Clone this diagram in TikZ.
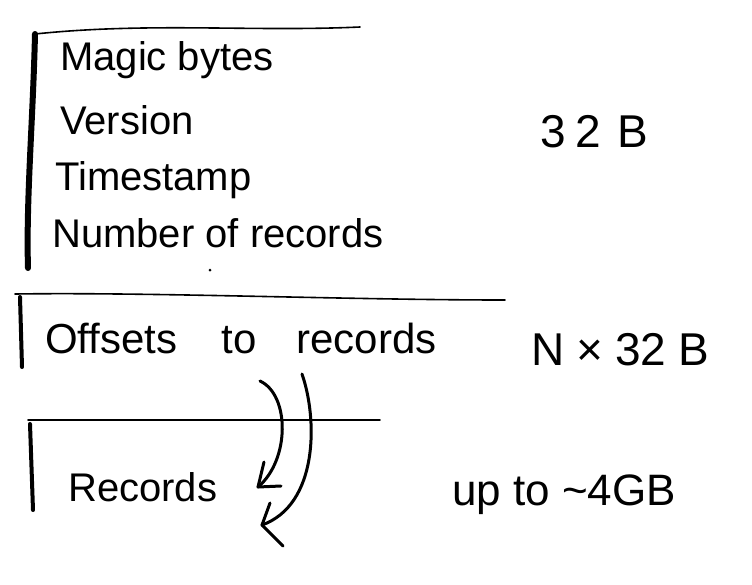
\documentclass[tikz,border=0pt]{standalone}
\usepackage{fontspec}
\setmainfont{Liberation Sans}
\begin{document}
\begin{tikzpicture}[x=1pt,y=-1pt,
  rule/.style={line width=1.6pt, line cap=round},
  bar/.style={line width=4pt, line cap=round},
  hand/.style={anchor=west, inner sep=0pt, font=\fontsize{40}{46}\selectfont},
  size/.style={anchor=center, inner sep=0pt, font=\fontsize{46}{52}\selectfont},
  pen/.style={line width=3pt, line cap=round, line join=round}]
\useasboundingbox[fill=white] (0,0) rectangle (752,584);
% header block
\coordinate (h1) at (35,34);
\coordinate (h2) at (360,27);
\coordinate (hb) at (28,268);
\draw[rule] (h1) .. controls (150,22) and (250,32) .. (h2);
\draw[line width=6pt, line cap=round] (h1) .. controls (33,120) and (26,200) .. (hb);
\node[hand] (magic) at (60,60) {Magic bytes};
\node[hand] (version) at (60,120) {Version};
\node[hand] (time) at (55,180) {Timestamp};
\node[hand] (num) at (52,233) {Number of records};
\node[size] (s1) at (594,132) {3\hspace{10pt}2\hspace{16pt}B};
\fill (210,270) circle (1.5);
% offsets block
\coordinate (o1) at (15,294);
\coordinate (o2) at (505,300);
\coordinate (ob) at (22,367);
\draw[rule] (o1) .. controls (150,292) and (350,300) .. (o2);
\draw[bar] (20,297) -- (ob);
\node[hand, font=\fontsize{42}{48}\selectfont] (off) at (45,338) {Offsets\hspace{44pt}to\hspace{40pt}records};
\node[size] (s2) at (620,350) {N\hspace{12pt}×\hspace{12pt}32\hspace{12pt}B};
% records block
\coordinate (r1) at (28,420);
\coordinate (r2) at (380,420);
\coordinate (rb) at (33,510);
\draw[rule] (r1) -- (r2);
\draw[bar] (30,424) -- (rb);
\node[hand, font=\fontsize{40}{46}\selectfont] (rec) at (68,487) {Records};
\node[hand, font=\fontsize{44}{50}\selectfont] (s3) at (452,495) {up to \textasciitilde 4GB};
% arrows
\coordinate (a1s) at (260,381);
\coordinate (a1e) at (258,487);
\coordinate (a2s) at (302,374);
\coordinate (a2e) at (262,525);
\draw[pen] (a1s) .. controls (290,395) and (290,460) .. (a1e);
\draw[pen] (a1e) -- (264,462);
\draw[pen] (a1e) -- (281,486);
\draw[pen] (a2s) .. controls (318,420) and (318,505) .. (a2e);
\draw[pen] (a2e) -- (270,503);
\draw[pen] (a2e) -- (283,546);
\end{tikzpicture}
\end{document}
